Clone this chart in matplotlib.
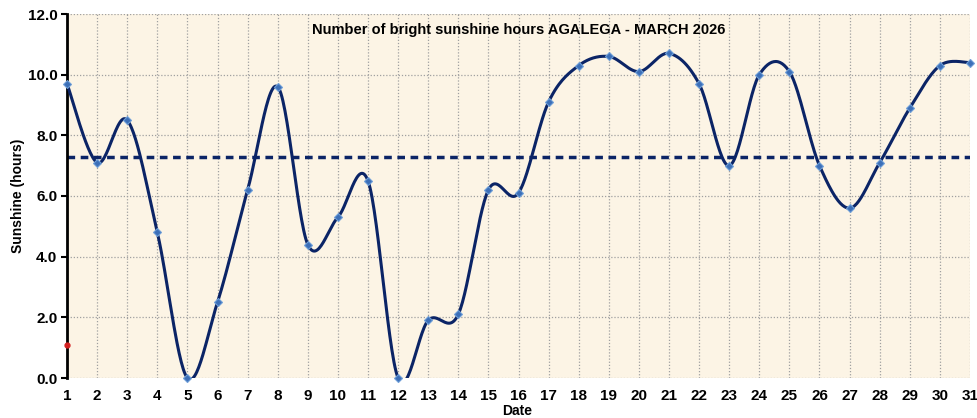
import numpy as np
import matplotlib
matplotlib.use("Agg")
import matplotlib.pyplot as plt

days = list(range(1, 32))
sunshine = [9.7, 7.1, 8.5, 4.8, 0.0, 2.5, 6.2, 9.6, 4.4, 5.3, 6.5, 0.0, 1.9, 2.1, 6.2,
            6.1, 9.1, 10.3, 10.6, 10.1, 10.7, 9.7, 7.0, 10.0, 10.1, 7.0, 5.6, 7.1, 8.9,
            10.3, 10.4]
normal_value = 7.3
red_day = [1]
red_value = [1.1]
title = "Number of bright sunshine hours AGALEGA - MARCH 2026"
y_ticks = [0.0, 2.0, 4.0, 6.0, 8.0, 10.0, 12.0]


def smooth(xs, ys, n=30):
    x = np.asarray(xs, float)
    y = np.asarray(ys, float)
    xp = np.concatenate([[x[0]], x, [x[-1]]])
    yp = np.concatenate([[y[0]], y, [y[-1]]])
    ox, oy = [], []
    t = np.linspace(0, 1, n)
    for i in range(len(x) - 1):
        p0 = np.array([xp[i + 1], yp[i + 1]])
        p3 = np.array([xp[i + 2], yp[i + 2]])
        p1 = p0 + (np.array([xp[i + 2], yp[i + 2]]) - np.array([xp[i], yp[i]])) / 6
        p2 = p3 - (np.array([xp[i + 3], yp[i + 3]]) - np.array([xp[i + 1], yp[i + 1]])) / 6
        b = (((1 - t) ** 3)[:, None] * p0 + (3 * (1 - t) ** 2 * t)[:, None] * p1
             + (3 * (1 - t) * t ** 2)[:, None] * p2 + (t ** 3)[:, None] * p3)
        ox.extend(b[:, 0]); oy.extend(b[:, 1])
    return np.array(ox), np.array(oy)


plt.rcParams['font.family'] = ['Liberation Sans', 'DejaVu Sans']

fig = plt.figure(figsize=(9.77, 4.18), dpi=100)
ax = fig.add_axes([67 / 977, 1 - 378 / 418, (970 - 67) / 977, (378 - 14) / 418])
ax.set_facecolor('#FCF4E5')

ax.set_xlim(1, 31)
ax.set_ylim(0, 12)
ax.set_xticks(days)
ax.set_xticklabels([str(d) for d in days], fontsize=11, fontweight='bold')
ax.set_yticks(y_ticks)
ax.set_yticklabels([f"{v:.1f}" for v in y_ticks], fontsize=11, fontweight='bold')
ax.tick_params(axis='x', length=0, pad=8)
ax.tick_params(axis='y', length=4, width=1.5, direction='out', pad=3)

ax.grid(True, color='#A0A0A0', linestyle=(0, (1, 1.5)), linewidth=0.9)
ax.set_axisbelow(True)
for s in ['top', 'right', 'bottom']:
    ax.spines[s].set_visible(False)
ax.spines['left'].set_linewidth(2)
ax.spines['left'].set_color('black')

sx, sy = smooth(days, sunshine)
ax.plot(sx, sy, color='#0B2466', linewidth=2.2, zorder=3, clip_on=True)
ax.plot(days, sunshine, linestyle='none', marker='D', markersize=4,
        color='#3C6FB8', markeredgecolor='#6F9FD8', markeredgewidth=0.8, zorder=4, clip_on=False)
ax.axhline(normal_value, color='#0B2466', linewidth=2.5, linestyle=(0, (2.2, 1.6)), zorder=2)
ax.plot(red_day, red_value, 'o', color='#D42020', markersize=3.5, zorder=5, clip_on=False)

ax.text(0.5, 0.975, title, transform=ax.transAxes, ha='center', va='top',
        fontsize=10.5, fontweight='bold')
fig.text(18 / 977, 1 - 196 / 418, 'Sunshine (hours)', rotation=90, ha='center', va='center',
         fontsize=10, fontweight='bold')
fig.text(517 / 977, 1 - 411 / 418, 'Date', ha='center', va='center', fontsize=10, fontweight='bold')

fig.savefig('out.png', dpi=100)
